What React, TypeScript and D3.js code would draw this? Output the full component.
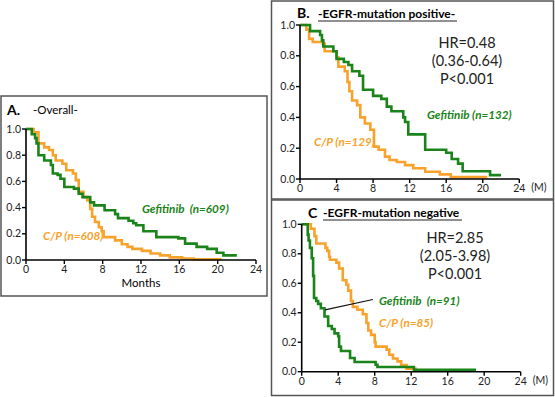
import React from 'react';
import * as d3 from 'd3';

// ---------- data (months, survival proportion) ----------
const xTicks = [0, 4, 8, 12, 16, 20, 24];
const yTicks = [0, 0.2, 0.4, 0.6, 0.8, 1.0];

// Panel A - Overall
const aGefT = [0, 0.6, 0.95, 1.1, 1.3, 1.9, 2.6, 2.8, 3.3, 3.6, 4.0, 5.0, 5.5, 5.9, 6.7, 7.1, 8.2, 9.3, 9.6, 10.7, 11.2, 11.5, 12.25, 13.6, 15.9, 16.6, 17.8, 18.9, 19.9, 20.6, 22.0];
const aGefS = [1.0, 0.96, 0.93, 0.89, 0.80, 0.76, 0.725, 0.66, 0.65, 0.62, 0.557, 0.545, 0.506, 0.48, 0.44, 0.417, 0.38, 0.35, 0.32, 0.30, 0.28, 0.265, 0.22, 0.175, 0.165, 0.125, 0.10, 0.085, 0.055, 0.035, 0.035];
const aCpT = [0, 0.8, 1.3, 1.9, 2.4, 2.8, 3.1, 3.8, 4.2, 4.9, 5.2, 5.5, 6.0, 6.4, 6.7, 6.9, 7.2, 7.6, 7.9, 8.1, 9.3, 10.0, 10.6, 11.1, 12.1, 13.0, 14.0, 15.0, 16.3, 17.5, 20.4];
const aCpS = [1.0, 0.975, 0.89, 0.86, 0.84, 0.80, 0.76, 0.735, 0.685, 0.66, 0.61, 0.52, 0.48, 0.455, 0.39, 0.33, 0.29, 0.25, 0.22, 0.175, 0.15, 0.12, 0.10, 0.085, 0.07, 0.05, 0.035, 0.02, 0.012, 0.006, 0.006];

// Panel B - EGFR-mutation positive
const bGefT = [0, 1.1, 2.2, 2.4, 2.55, 3.65, 4.0, 4.8, 5.3, 5.7, 6.5, 6.9, 8.0, 8.9, 9.5, 10.0, 11.3, 11.5, 11.85, 13.7, 16.0, 16.6, 17.3, 17.8, 20.8, 22.0];
const bGefS = [1.0, 0.96, 0.935, 0.90, 0.86, 0.83, 0.78, 0.76, 0.74, 0.70, 0.67, 0.58, 0.54, 0.52, 0.47, 0.44, 0.40, 0.37, 0.29, 0.19, 0.17, 0.13, 0.10, 0.05, 0.025, 0.025];
const bCpT = [0, 0.7, 1.0, 1.4, 2.5, 2.7, 4.0, 4.2, 4.9, 5.2, 5.4, 5.7, 6.25, 6.6, 7.1, 7.7, 8.1, 8.6, 9.3, 9.8, 10.6, 11.5, 12.4, 13.7, 15.3, 16.5, 20.5];
const bCpS = [1.0, 0.97, 0.91, 0.89, 0.88, 0.83, 0.79, 0.73, 0.70, 0.63, 0.57, 0.51, 0.48, 0.40, 0.36, 0.32, 0.21, 0.19, 0.145, 0.123, 0.11, 0.09, 0.07, 0.047, 0.03, 0.012, 0.012];

// Panel C - EGFR-mutation negative
const cGefT = [0, 0.66, 0.75, 0.9, 1.1, 1.25, 1.35, 1.6, 1.8, 2.1, 2.5, 2.9, 3.3, 3.6, 4.0, 4.1, 4.3, 5.3, 5.8, 8.1, 8.3, 12.3, 19.1];
const cGefS = [1.0, 0.93, 0.89, 0.84, 0.77, 0.65, 0.50, 0.48, 0.46, 0.43, 0.375, 0.31, 0.29, 0.26, 0.24, 0.17, 0.14, 0.093, 0.066, 0.047, 0.032, 0.013, 0.013];
const cCpT = [0, 1.0, 1.4, 1.6, 2.6, 2.8, 3.0, 3.1, 3.8, 4.1, 4.5, 4.9, 5.1, 5.4, 5.6, 6.1, 6.7, 7.1, 7.3, 7.6, 8.0, 8.1, 9.3, 9.6, 10.0, 10.5, 10.9, 11.5, 12.5, 12.7];
const cCpS = [1.0, 0.97, 0.92, 0.87, 0.84, 0.82, 0.78, 0.76, 0.74, 0.70, 0.62, 0.59, 0.55, 0.48, 0.44, 0.42, 0.39, 0.33, 0.28, 0.25, 0.20, 0.17, 0.15, 0.115, 0.09, 0.07, 0.045, 0.02, 0.01, 0.01];

// pointer line in panel C (data coords)
const cPointer = [[2.55, 0.42], [7.8, 0.49]];

const GREEN = '#1a841a';
const ORANGE = '#f8a22c';
const FONT = "Lato, 'Open Sans', sans-serif";

type Sc = d3.ScaleLinear<number, number>;

function Curve({ t, s, x, y, color }: { t: number[]; s: number[]; x: Sc; y: Sc; color: string }) {
  const pts: [number, number][] = t.map((d, i) => [d, s[i]]);
  const line = d3.line<[number, number]>().x(d => x(d[0])).y(d => y(d[1])).curve(d3.curveStepAfter);
  return <path d={line(pts) || ''} fill="none" stroke={color} strokeWidth={2.6} strokeLinejoin="miter" />;
}

function Axes({ x, y, unit }: { x: Sc; y: Sc; unit?: boolean }) {
  const x0 = x(0), y0 = y(0);
  return (
    <g fontFamily={FONT} fontSize={10.5} fill="#222">
      <line x1={x0} x2={x0} y1={y(1)} y2={y0} stroke="#000" strokeWidth={1.6} />
      <line x1={x0} x2={x(24)} y1={y0} y2={y0} stroke="#000" strokeWidth={1.6} />
      {yTicks.map(v => (
        <g key={'y' + v}>
          <line x1={x0 - 4} x2={x0} y1={y(v)} y2={y(v)} stroke="#000" strokeWidth={1.4} />
          <text x={x0 - 5} y={y(v) + 3.5} textAnchor="end">{v.toFixed(1)}</text>
        </g>
      ))}
      {xTicks.map(v => (
        <g key={'x' + v}>
          <line x1={x(v)} x2={x(v)} y1={y0} y2={y0 + 4} stroke="#000" strokeWidth={1.4} />
          <text x={x(v)} y={y0 + 13} textAnchor="middle">{v}</text>
        </g>
      ))}
      {unit && <text x={x(24) + 12} y={y0 + 12}>(M)</text>}
    </g>
  );
}

export default function App() {
  const xA = d3.scaleLinear().domain([0, 24]).range([26, 256]);
  const yA = d3.scaleLinear().domain([0, 1]).range([260, 129]);
  const xB = d3.scaleLinear().domain([0, 24]).range([300, 519.3]);
  const yB = d3.scaleLinear().domain([0, 1]).range([179, 25]);
  const xC = d3.scaleLinear().domain([0, 24]).range([301.7, 520.7]);
  const yC = d3.scaleLinear().domain([0, 1]).range([371.7, 224.3]);
  const lab = { fontFamily: FONT, fontSize: 11.7, fontWeight: 'bold', fontStyle: 'italic' } as const;

  return (
    <svg width={555} height={397} style={{ position: 'absolute', left: 0, top: 0, background: '#fff' }}>
      <rect x={0} y={0} width={555} height={397} fill="#fff" />
      {/* frames */}
      <rect x={1} y={96} width={266} height={200} fill="none" stroke="#555" strokeWidth={1.5} />
      <rect x={271.5} y={1} width={282} height={198} fill="none" stroke="#555" strokeWidth={1.5} />
      <rect x={271.5} y={200} width={282} height={195.5} fill="none" stroke="#555" strokeWidth={1.5} />

      {/* Panel A */}
      <text x={7} y={115} fontFamily={FONT} fontWeight="bold" fontSize={14}>A.</text>
      <text x={33} y={114} fontFamily={FONT} fontSize={11.5}>-Overall-</text>
      <Curve t={aCpT} s={aCpS} x={xA} y={yA} color={ORANGE} />
      <Curve t={aGefT} s={aGefS} x={xA} y={yA} color={GREEN} />
      <Axes x={xA} y={yA} />
      <text x={141} y={287} fontFamily={FONT} fontSize={11.5} textAnchor="middle">Months</text>
      <text x={142} y={213} {...lab} fill={GREEN} xmlSpace="preserve">Gefitinib  (n=609)</text>
      <text x={43} y={240} {...lab} fill={ORANGE}>C/P (n=608)</text>

      {/* Panel B */}
      <text x={297} y={18} fontFamily={FONT} fontWeight="bold" fontSize={14}>B.</text>
      <text x={318} y={18} fontFamily={FONT} fontWeight="bold" fontSize={12}>-EGFR-mutation positive-</text>
      <line x1={318} x2={457} y1={21} y2={21} stroke="#222" strokeWidth={1} />
      <Curve t={bCpT} s={bCpS} x={xB} y={yB} color={ORANGE} />
      <Curve t={bGefT} s={bGefS} x={xB} y={yB} color={GREEN} />
      <Axes x={xB} y={yB} unit />
      <g fontFamily={FONT} fontSize={14.5} textAnchor="middle" fill="#222">
        <text x={467} y={48}>HR=0.48</text>
        <text x={467} y={66}>(0.36-0.64)</text>
        <text x={467} y={84}>P&lt;0.001</text>
      </g>
      <text x={427} y={119} {...lab} fill={GREEN}>Gefitinib (n=132)</text>
      <text x={314} y={146} {...lab} fill={ORANGE}>C/P (n=129)</text>

      {/* Panel C */}
      <text x={308} y={218} fontFamily={FONT} fontWeight="bold" fontSize={14}>C</text>
      <text x={323} y={217} fontFamily={FONT} fontWeight="bold" fontSize={12}>-EGFR-mutation negative</text>
      <line x1={323} x2={462} y1={220} y2={220} stroke="#222" strokeWidth={1} />
      <Curve t={cCpT} s={cCpS} x={xC} y={yC} color={ORANGE} />
      <Curve t={cGefT} s={cGefS} x={xC} y={yC} color={GREEN} />
      <Axes x={xC} y={yC} unit />
      <line x1={xC(cPointer[0][0])} y1={yC(cPointer[0][1])} x2={xC(cPointer[1][0])} y2={yC(cPointer[1][1])} stroke="#111" strokeWidth={1.2} />
      <g fontFamily={FONT} fontSize={14.5} textAnchor="middle" fill="#222">
        <text x={455} y={243}>HR=2.85</text>
        <text x={455} y={261}>(2.05-3.98)</text>
        <text x={455} y={279}>P&lt;0.001</text>
      </g>
      <text x={379} y={305} {...lab} fill={GREEN} xmlSpace="preserve">Gefitinib  (n=91)</text>
      <text x={379} y={327} {...lab} fill={ORANGE}>C/P (n=85)</text>
    </svg>
  );
}
